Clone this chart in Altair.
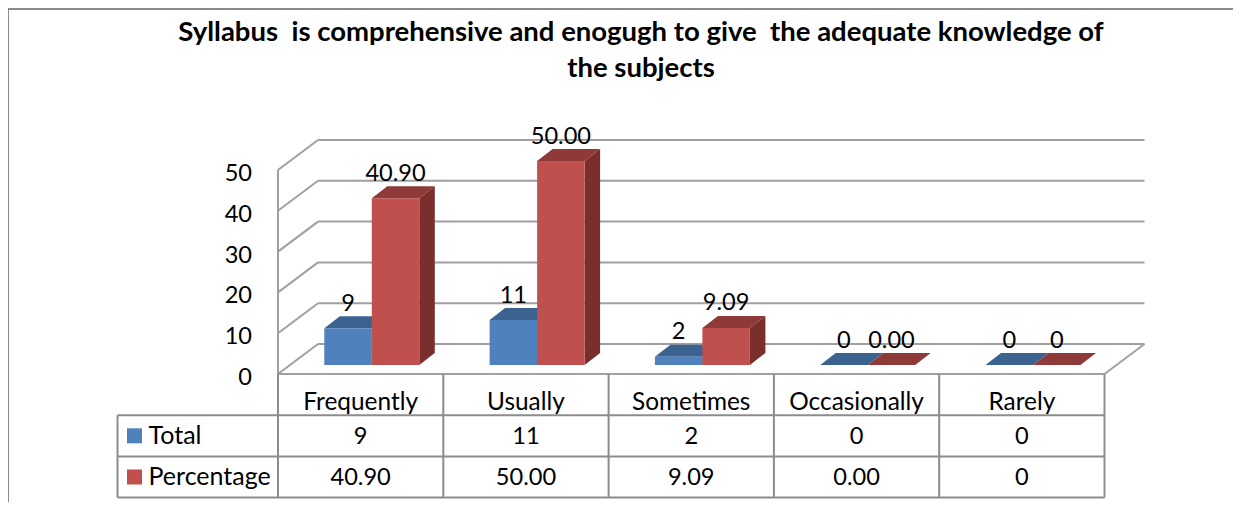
import altair as alt
import pandas as pd

categories = ["Frequently", "Usually", "Sometimes", "Occasionally", "Rarely"]
total = [9, 11, 2, 0, 0]
percentage = [40.90, 50.00, 9.09, 0.00, 0]
total_labels = ["9", "11", "2", "0", "0"]
percentage_labels = ["40.90", "50.00", "9.09", "0.00", "0"]
series_names = ["Total", "Percentage"]
y_ticks = [0, 10, 20, 30, 40, 50]
title_lines = ["Syllabus \u00a0is comprehensive and enogugh to give \u00a0the adequate knowledge of", "the subjects"]

FONT = "Lato"
W, H = 1225, 494
PX_CAT = 165.3      # px per category
PX_VAL = 4.08       # px per value unit
X0_PX, Y0_PX = 278, 374  # pixel position of the origin in the image
GREY = "#999999"

# scales: x in category units, y in value units
x_scale = alt.Scale(domain=[(8 - X0_PX) / PX_CAT, (8 + W - X0_PX) / PX_CAT], range=[0, W], nice=False, zero=False)
y_scale = alt.Scale(domain=[(Y0_PX - 8 - H) / PX_VAL, (Y0_PX - 8) / PX_VAL], range=[H, 0], nice=False, zero=False)
X = alt.X("x:Q", scale=x_scale, axis=None)
Y = alt.Y("y:Q", scale=y_scale, axis=None)

WALL_DX, WALL_DY = 40 / PX_CAT, 30 / PX_VAL
BAR_W = 47.5 / PX_CAT
BAR_OFF = 46.3 / PX_CAT
BAR_BASE = 9 / PX_VAL  # floor lift of the bar base
BAR_DX, BAR_DY = 15.5 / PX_CAT, 12 / PX_VAL
ROW = 41.2 / PX_VAL
LEFT = (117.5 - X0_PX) / PX_CAT


def rules(rows, color=GREY, width=2):
    return alt.Chart(pd.DataFrame(rows, columns=["x", "y", "x2", "y2"])).mark_rule(
        color=color, strokeWidth=width
    ).encode(X, Y, x2="x2:Q", y2="y2:Q")


def texts(rows, size=23.6, align="center", bold=False):
    return alt.Chart(pd.DataFrame(rows, columns=["x", "y", "t"])).mark_text(
        font=FONT, fontSize=size, align=align, baseline="middle", color="#000000",
        fontWeight="bold" if bold else "normal",
    ).encode(X, Y, text="t:N")


def faces(rows, color):
    return alt.Chart(pd.DataFrame(rows, columns=["id", "x", "y", "y2"])).mark_area(
        color=color, orient="vertical", interpolate="linear", strokeWidth=0
    ).encode(X, Y, y2="y2:Q", detail="id:N")


layers = []

# outer frame
layers.append(rules([
    [(8 - X0_PX) / PX_CAT, (Y0_PX - 9) / PX_VAL, (8 + W - X0_PX) / PX_CAT, (Y0_PX - 9) / PX_VAL],
    [(8 - X0_PX) / PX_CAT, (Y0_PX - 9) / PX_VAL, (8 - X0_PX) / PX_CAT, (Y0_PX - 8 - H) / PX_VAL],
], color="#8a8a8a", width=2))

# walls
grid = []
for v in y_ticks:
    grid.append([0, v, WALL_DX, v + WALL_DY])
    grid.append([WALL_DX, v + WALL_DY, 5 + WALL_DX, v + WALL_DY])
grid.append([0, 0, 0, 50])
grid.append([0, 0, 5, 0])
grid.append([5, 0, 5 + WALL_DX, WALL_DY])
layers.append(rules(grid, color="#a0a0a0"))

# 3-D columns
for values, off, front, top, side in [
    (total, BAR_OFF, "#4F81BD", "#3C6290", "#3A5E8C"),
    (percentage, BAR_OFF + BAR_W, "#C0504D", "#8E3A38", "#7A2F2D"),
]:
    t_rows, s_rows, f_rows = [], [], []
    for i, v in enumerate(values):
        a = i + off
        b = a + BAR_W
        lo, hi = BAR_BASE, BAR_BASE + v
        t_rows += [[i, a, hi, hi], [i, a + BAR_DX, hi + BAR_DY, hi], [i, b, hi + BAR_DY, hi], [i, b + BAR_DX, hi + BAR_DY, hi + BAR_DY]]
        s_rows += [[i, b, hi, lo], [i, b + BAR_DX, hi + BAR_DY, lo + BAR_DY]]
        f_rows += [[i, a, hi, lo], [i, b, hi, lo]]
    layers += [faces(t_rows, top), faces(s_rows, side), faces(f_rows, front)]

# data labels
labels = []
for i in range(5):
    labels.append([i + BAR_OFF + BAR_W / 2, BAR_BASE + total[i] + BAR_DY + 12.5 / PX_VAL, total_labels[i]])
    labels.append([i + BAR_OFF + 1.5 * BAR_W, BAR_BASE + percentage[i] + BAR_DY + 12.5 / PX_VAL, percentage_labels[i]])
layers.append(texts(labels))

# y axis labels
layers.append(texts([[-26 / PX_CAT, v - 4 / PX_VAL, str(v)] for v in y_ticks], align="right"))

# data table
table = [
    [LEFT, -ROW, 5, -ROW],
    [LEFT, -2 * ROW, 5, -2 * ROW],
    [LEFT, -3 * ROW, 5, -3 * ROW],
    [LEFT, -ROW, LEFT, -3 * ROW],
]
for i in range(6):
    table.append([i, 0, i, -3 * ROW])
layers.append(rules(table, color="#8c8c8c"))

layers.append(texts([[i + 0.5, -0.70 * ROW, c] for i, c in enumerate(categories)], size=24.4))
layers.append(texts([[i + 0.5, -1.52 * ROW, s] for i, s in enumerate(total_labels)]))
layers.append(texts([[i + 0.5, -2.52 * ROW, s] for i, s in enumerate(percentage_labels)]))
layers.append(texts([[(148.5 - X0_PX) / PX_CAT, -1.5 * ROW, series_names[0]], [(148.5 - X0_PX) / PX_CAT, -2.5 * ROW, series_names[1]]], size=25, align="left"))

# legend keys
KEY = 15 / PX_CAT
KEY_H = 15 / PX_VAL
for row, color in [(1.5, "#4F81BD"), (2.5, "#C0504D")]:
    k0 = (127 - X0_PX) / PX_CAT
    layers.append(faces([[0, k0, -row * ROW + KEY_H / 2, -row * ROW - KEY_H / 2], [0, k0 + KEY, -row * ROW + KEY_H / 2, -row * ROW - KEY_H / 2]], color))

# title
cx = (641 - X0_PX) / PX_CAT
layers.append(texts([[cx, (Y0_PX - 33) / PX_VAL, title_lines[0]], [cx, (Y0_PX - 69) / PX_VAL, title_lines[1]]], size=27.5, bold=True))

chart = alt.layer(*layers).properties(
    width=W, height=H, padding=0, autosize=alt.AutoSizeParams(type="none"),
).configure_view(stroke=None)

chart.save("out.html", embed_options={"renderer": "svg", "actions": False})
